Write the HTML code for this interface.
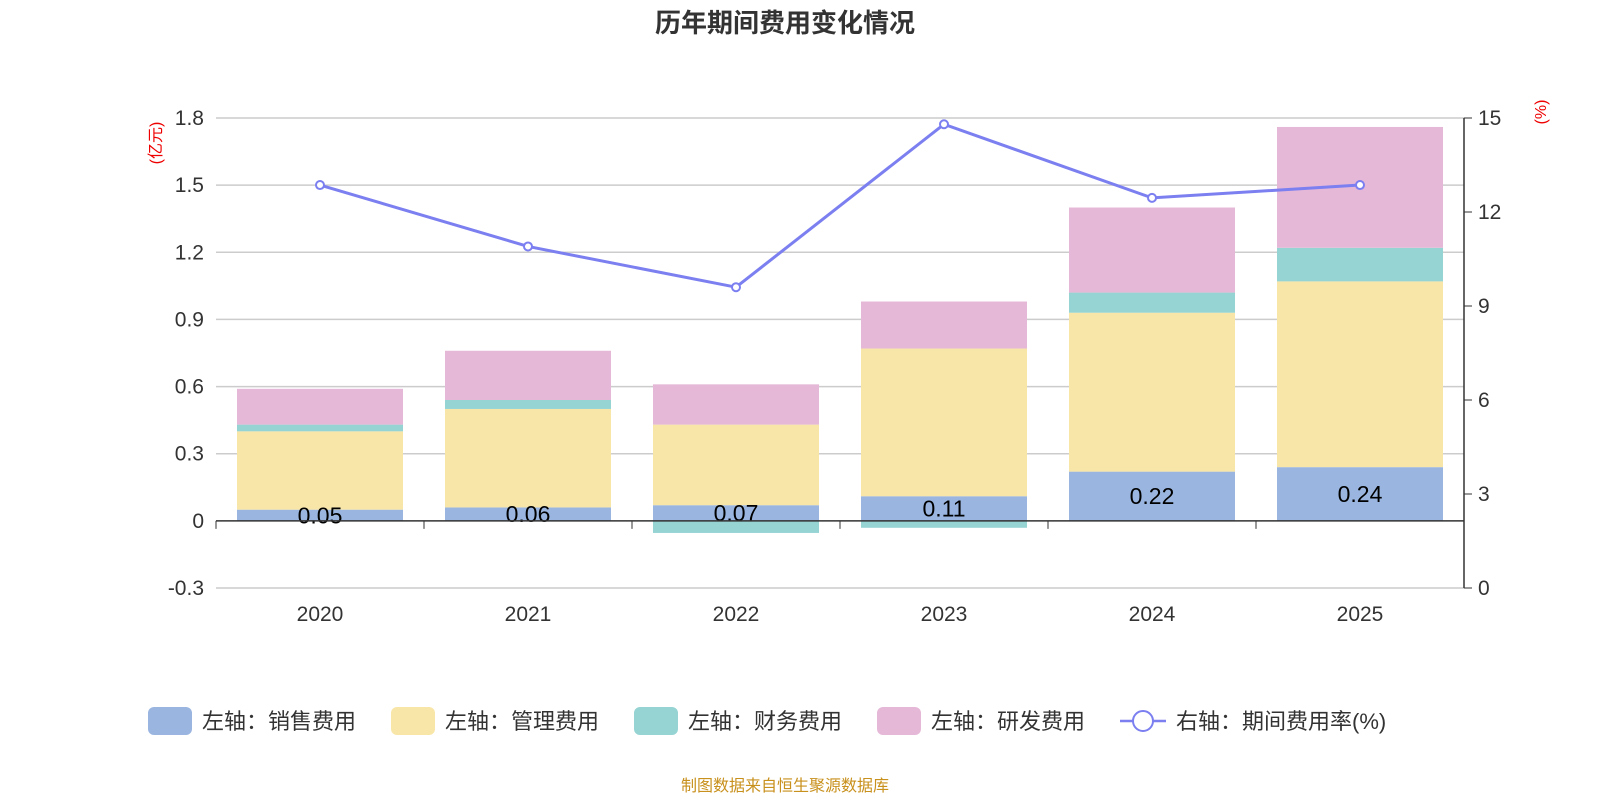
<!DOCTYPE html>
<html><head><meta charset="utf-8">
<style>
html,body{margin:0;padding:0;background:#fff;}
svg text{font-family:"Liberation Sans","Noto Sans CJK SC",sans-serif;}
</style></head>
<body>
<svg id="chart" width="1600" height="800" xmlns="http://www.w3.org/2000/svg">
<text x="785" y="32" text-anchor="middle" font-size="26" font-weight="bold" fill="#333">历年期间费用变化情况</text>
<text transform="translate(161,143) rotate(-90)" text-anchor="middle" font-size="16" fill="#e00">(亿元)</text>
<text transform="translate(1546,112) rotate(-90)" text-anchor="middle" font-size="16" fill="#e00">(%)</text>
<g id="grid"></g><g id="bars"></g><g id="axes"></g><g id="line"></g><g id="legend"></g>
<text x="785" y="791" text-anchor="middle" font-size="16" fill="#c8901c">制图数据来自恒生聚源数据库</text>
</svg>
<script>
const categories=["2020","2021","2022","2023","2024","2025"];
const sales=[0.05,0.06,0.07,0.11,0.22,0.24];
const mgmt=[0.35,0.44,0.36,0.66,0.71,0.83];
const fin=[0.03,0.04,-0.054,-0.031,0.09,0.15];
const rd=[0.16,0.22,0.18,0.21,0.38,0.54];
const rate=[12.86,10.9,9.6,14.8,12.45,12.86];
const leftTicks=[-0.3,0,0.3,0.6,0.9,1.2,1.5,1.8];
const rightTicks=[0,3,6,9,12,15];
const salesLabels=["0.05","0.06","0.07","0.11","0.22","0.24"];

const NS="http://www.w3.org/2000/svg";
const X0=216,X1=1464,TOP=118,BOT=588;
const yL=v=>TOP+(1.8-v)/2.1*(BOT-TOP);
const yR=v=>BOT-v/15*(BOT-TOP);
const band=(X1-X0)/categories.length;
const xc=i=>X0+band*(i+0.5);
const BW=166;
function mk(tag,attrs,parent,text){const e=document.createElementNS(NS,tag);for(const k in attrs)e.setAttribute(k,attrs[k]);if(text!==undefined)e.textContent=text;parent.appendChild(e);return e;}
const grid=document.getElementById('grid'),bars=document.getElementById('bars'),axes=document.getElementById('axes'),line=document.getElementById('line'),legend=document.getElementById('legend');

leftTicks.forEach(t=>{
 if(t!==0){const l=mk('line',{x1:X0,x2:X1,y1:yL(t),y2:yL(t),stroke:'#ccc','stroke-width':1.5},grid);
 }
 const tx=mk('text',{x:X0-12,y:yL(t)+7,'text-anchor':'end','font-size':21,fill:'#333'},axes,t===0?"0":t.toFixed(1));
 
});
rightTicks.forEach(t=>{
 mk('line',{x1:X1,x2:X1+8,y1:yR(t),y2:yR(t),stroke:'#333'},axes);
 const tx=mk('text',{x:X1+14,y:yR(t)+7,'font-size':21,fill:'#333'},axes,String(t));
 
});
mk('line',{x1:X1,x2:X1,y1:TOP,y2:BOT,stroke:'#333','stroke-width':1.5},axes);
const xa=mk('line',{x1:X0,x2:X1,y1:yL(0),y2:yL(0),stroke:'#333','stroke-width':1.5},axes);

for(let i=0;i<=categories.length;i++)mk('line',{x1:X0+band*i,x2:X0+band*i,y1:yL(0),y2:yL(0)+8,stroke:'#333'},axes);

const series=[[sales,'#9ab6e0','sales'],[mgmt,'#f8e6a8','mgmt'],[fin,'#96d3d3','finance'],[rd,'#e6b8d8','rd']];
categories.forEach((c,i)=>{
 let pos=0,neg=0;
 series.forEach(([arr,col,nm])=>{
  const v=arr[i];let a,b;
  if(v>=0){a=pos;b=pos+v;pos=b;}else{a=neg;b=neg+v;neg=b;}
  const y1=yL(Math.max(a,b)),y2=yL(Math.min(a,b));
  const r=mk('rect',{x:xc(i)-BW/2,y:y1,width:BW,height:y2-y1,fill:col},bars);
  
 });
 const ly=(yL(0)+yL(sales[i]))/2+8;
 const t=mk('text',{x:xc(i),y:ly,'text-anchor':'middle','font-size':23,fill:'#000'},bars,salesLabels[i]);
 
 const cl=mk('text',{x:xc(i),y:BOT+33,'text-anchor':'middle','font-size':21,fill:'#333'},axes,c);
 
});
const pts=rate.map((v,i)=>xc(i)+','+yR(v)).join(' ');
const pl=mk('polyline',{points:pts,fill:'none',stroke:'#7b7ff0','stroke-width':3},line);

rate.forEach((v,i)=>{const p=mk('circle',{cx:xc(i),cy:yR(v),r:4,fill:'#fff',stroke:'#7b7ff0','stroke-width':2},line);
 });

const legItems=[['左轴：销售费用','#9ab6e0',148],['左轴：管理费用','#f8e6a8',391],['左轴：财务费用','#96d3d3',634],['左轴：研发费用','#e6b8d8',877]];
legItems.forEach(([lab,col,x])=>{
 const g=mk('g',{},legend);
 
 mk('rect',{x:x,y:707,width:44,height:28,rx:6,fill:col},g);
 mk('text',{x:x+54,y:729,'font-size':22,fill:'#333'},g,lab);
});
const g=mk('g',{},legend);

mk('line',{x1:1120,x2:1166,y1:721,y2:721,stroke:'#7b7ff0','stroke-width':2.5},g);
mk('circle',{cx:1143,cy:721,r:10,fill:'#fff',stroke:'#7b7ff0','stroke-width':2},g);
mk('text',{x:1176,y:729,'font-size':22,fill:'#333'},g,'右轴：期间费用率(%)');
</script>
</body></html>
